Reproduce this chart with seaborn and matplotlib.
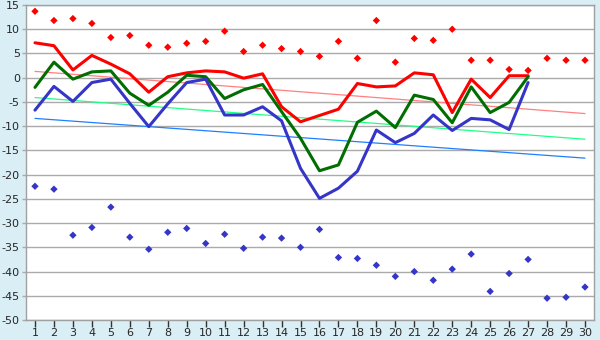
import numpy as np
import pandas as pd
import matplotlib
matplotlib.use("Agg")
import matplotlib.pyplot as plt
import seaborn as sns

# Day index along the x axis
days = list(range(1, 31))
line_days = list(range(1, 28))

# Daily maxima (red diamonds) and minima (blue diamonds)
high_points = [13.7, 11.8, 12.2, 11.2, 8.3, 8.7, 6.7, 6.3, 7.1, 7.5,
               9.6, 5.4, 6.7, 6.0, 5.4, 4.4, 7.5, 4.0, 11.8, 3.2,
               8.1, 7.7, 10.0, 3.6, 3.6, 1.7, 1.5, 4.0, 3.6, 3.6]
low_points = [-22.4, -23.0, -32.5, -30.9, -26.7, -32.9, -35.4, -31.9, -31.1, -34.2,
              -32.3, -35.2, -32.9, -33.1, -35.0, -31.3, -37.1, -37.3, -38.7, -41.0,
              -40.0, -41.8, -39.5, -36.4, -44.1, -40.4, -37.5, -45.5, -45.3, -43.2]

# Three daily series drawn as thick lines
red_series = [7.2, 6.6, 1.6, 4.6, 2.8, 0.8, -3.0, 0.2, 1.0, 1.4,
              1.2, -0.1, 0.8, -6.0, -9.1, -7.8, -6.5, -1.2, -1.9, -1.7,
              1.0, 0.6, -7.2, -0.3, -4.1, 0.4, 0.4]
green_series = [-2.0, 3.2, -0.3, 1.2, 1.4, -3.2, -5.7, -3.0, 0.5, 0.2,
                -4.3, -2.5, -1.4, -7.0, -12.5, -19.2, -18.0, -9.2, -6.9, -10.3,
                -3.6, -4.5, -9.3, -1.9, -7.2, -5.1, 0.2]
blue_series = [-6.7, -1.8, -4.9, -1.0, -0.3, -5.3, -10.1, -5.4, -1.0, -0.3,
               -7.7, -7.7, -6.0, -8.9, -18.7, -24.9, -22.8, -19.3, -10.8, -13.4,
               -11.5, -7.7, -10.9, -8.4, -8.7, -10.7, -1.0]

# Trend lines: values at the first and last day
trend_days = [1, 30]
red_trend = [1.3, -7.4]
green_trend = [-4.1, -12.7]
blue_trend = [-8.4, -16.6]

y_ticks = list(range(-50, 20, 5))

outer_bg = "#D9EEF5"
sns.set_theme(style="white")
plt.rcParams["font.family"] = ["DejaVu Sans"]

fig = plt.figure(figsize=(6.0, 3.4), dpi=100, facecolor=outer_bg)
ax = fig.add_axes([0.0425, 0.0588, 0.9483, 0.9265])
ax.set_facecolor("white")

lines_df = pd.DataFrame({
    "day": line_days * 3,
    "value": red_series + green_series + blue_series,
    "series": ["red"] * 27 + ["green"] * 27 + ["blue"] * 27,
})
trend_df = pd.DataFrame({
    "day": trend_days * 3,
    "value": red_trend + green_trend + blue_trend,
    "series": ["rt"] * 2 + ["gt"] * 2 + ["bt"] * 2,
})
points_df = pd.DataFrame({
    "day": days * 2,
    "value": high_points + low_points,
    "series": ["high"] * 30 + ["low"] * 30,
})

sns.lineplot(data=trend_df, x="day", y="value", hue="series",
             palette={"rt": "#FF8080", "gt": "#22FF88", "bt": "#1E80FF"},
             linewidth=0.9, legend=False, ax=ax, zorder=2)
sns.lineplot(data=lines_df, x="day", y="value", hue="series",
             palette={"red": "#FF0000", "green": "#006E00", "blue": "#3535C8"},
             hue_order=["red", "green", "blue"],
             linewidth=2.2, legend=False, ax=ax, zorder=3)
sns.scatterplot(data=points_df, x="day", y="value", hue="series",
                palette={"high": "#FF0000", "low": "#3535C8"},
                marker="D", s=14, linewidth=0, legend=False, ax=ax, zorder=4)

ax.set_xlim(0.5, 30.5)
ax.set_ylim(-50, 15)
ax.set_xticks(days)
ax.set_yticks(y_ticks)
ax.set_xlabel("")
ax.set_ylabel("")
ax.yaxis.grid(True, color="#AAAAAA", linewidth=1.0)
ax.xaxis.grid(False)
ax.set_axisbelow(True)
for side in ax.spines.values():
    side.set_color("#A0A0A0")
    side.set_linewidth(1.0)
ax.tick_params(axis="x", direction="out", length=5, width=1, color="#333333",
               labelsize=8, pad=1, bottom=True)
ax.tick_params(axis="y", direction="out", length=3, width=1, color="#AAAAAA",
               labelsize=8, pad=1, left=True)
ax.set_yticklabels([str(v) for v in y_ticks])

fig.savefig("out.png", dpi=100, facecolor=outer_bg)
